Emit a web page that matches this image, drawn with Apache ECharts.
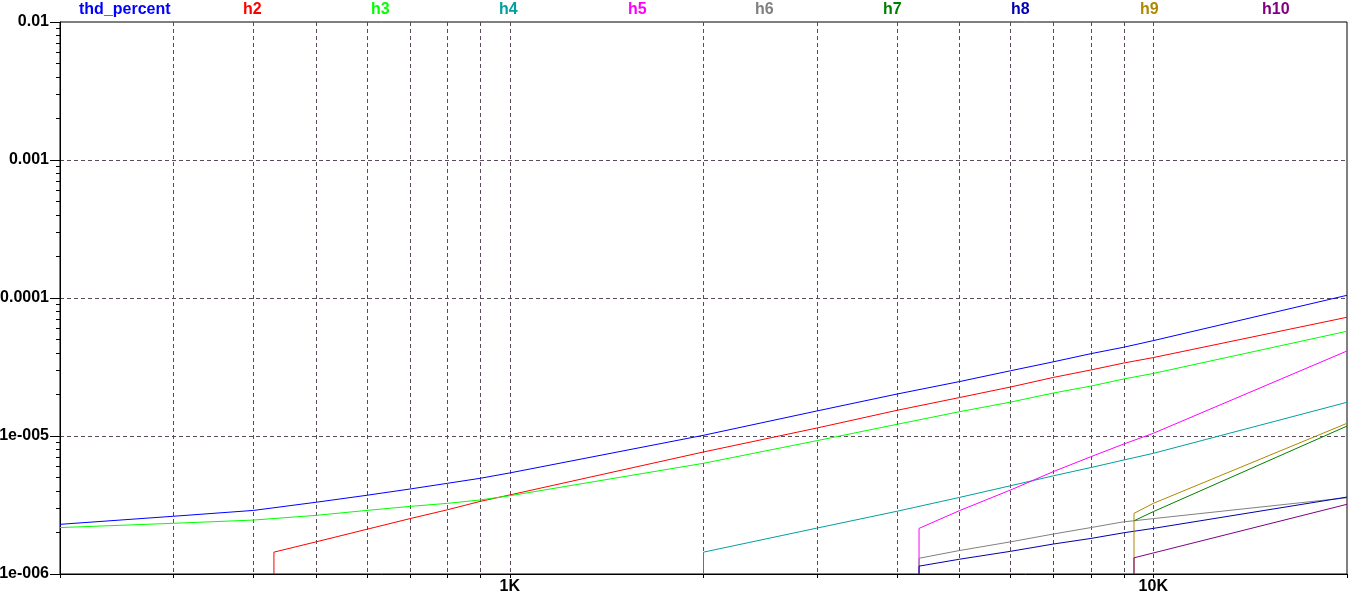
<!DOCTYPE html>
<html>
<head>
<meta charset="utf-8">
<script src="https://cdn.jsdelivr.net/npm/echarts@6/dist/echarts.min.js"></script>
<style>html,body{margin:0;padding:0;background:#fff}#c{width:1362px;height:606px}</style>
</head>
<body>
<div id="c"></div>
<script>
// ---- data (frequency in Hz, value) ----
const seriesNames = ['thd_percent','h2','h3','h4','h5','h6','h7','h8','h9','h10'];
const seriesColors = ['#0000ff','#ff0000','#00ff00','#00a0a0','#ff00ff','#808080','#008000','#0000b0','#b08800','#800080'];

const freqMain = [200,300,400,500,600,700,800,900,1000,2000,3000,4000,5000,6000,7000,8000,9000,10000,20000];
const thdVals  = [2.29e-6,2.62e-6,2.89e-6,3.31e-6,3.72e-6,4.13e-6,4.54e-6,4.94e-6,5.40e-6,1.012e-5,1.518e-5,2.015e-5,2.48e-5,2.97e-5,3.45e-5,3.95e-5,4.40e-5,4.91e-5,1.046e-4];
const h3Vals   = [2.17e-6,2.33e-6,2.46e-6,2.66e-6,2.89e-6,3.09e-6,3.25e-6,3.44e-6,3.69e-6,6.34e-6,9.25e-6,1.216e-5,1.50e-5,1.76e-5,2.05e-5,2.30e-5,2.59e-5,2.84e-5,5.74e-5];

const h2Freq = [430,430,500,600,700,800,900,1000,2000,3000,4000,5000,6000,7000,8000,9000,10000,20000];
const h2Vals = [1e-6,1.44e-6,1.71e-6,2.11e-6,2.52e-6,2.92e-6,3.36e-6,3.74e-6,7.66e-6,1.142e-5,1.536e-5,1.90e-5,2.265e-5,2.66e-5,3.01e-5,3.38e-5,3.70e-5,7.25e-5];

const h4Freq = [2000,2000,3000,4000,5000,6000,7000,8000,9000,10000,20000];
const h4Vals = [1e-6,1.44e-6,2.15e-6,2.85e-6,3.59e-6,4.36e-6,5.15e-6,5.91e-6,6.70e-6,7.49e-6,1.755e-5];

const h5Freq = [4325,4325,5000,6000,7000,8000,9000,10000,20000];
const h5Vals = [1e-6,2.14e-6,2.88e-6,4.06e-6,5.53e-6,7.08e-6,8.75e-6,1.046e-5,4.13e-5];

const h6Freq = [4325,4325,5000,6000,7000,8000,9000,9333,10000,20000];
const h6Vals = [1e-6,1.30e-6,1.48e-6,1.71e-6,1.95e-6,2.17e-6,2.39e-6,2.43e-6,2.52e-6,3.57e-6];

const h7Freq = [9333,10000,20000];
const h7Vals = [2.43e-6,2.83e-6,1.18e-5];

const h8Freq = [4325,4325,5000,6000,7000,8000,9000,10000,20000];
const h8Vals = [1e-6,1.14e-6,1.28e-6,1.46e-6,1.65e-6,1.81e-6,1.99e-6,2.14e-6,3.61e-6];

const h9Freq = [9333,9333,10000,20000];
const h9Vals = [1e-6,2.75e-6,3.25e-6,1.236e-5];

const h10Freq = [9333,9333,20000];
const h10Vals = [1e-6,1.31e-6,3.20e-6];

// axis ticks / labels
const xLabelValues = [1000,10000];
const xLabelTexts  = ['1K','10K'];
const xTickValues  = [200,300,400,500,600,700,800,900,1000,2000,3000,4000,5000,6000,7000,8000,9000,10000,20000];
const xGridValues  = [300,400,500,600,700,800,900,1000,2000,3000,4000,5000,6000,7000,8000,9000,10000];
const yLabelValues = [1e-6,1e-5,1e-4,1e-3,1e-2];
const yLabelTexts  = ['1e-006','1e-005','0.0001','0.001','0.01'];
const yGridValues  = [1e-5,1e-4,1e-3];
const yMinorValues = [2e-6,3e-6,4e-6,5e-6,6e-6,7e-6,8e-6,9e-6,2e-5,3e-5,4e-5,5e-5,6e-5,7e-5,8e-5,9e-5,2e-4,3e-4,4e-4,5e-4,6e-4,7e-4,8e-4,9e-4,2e-3,3e-3,4e-3,5e-3,6e-3,7e-3,8e-3,9e-3];
const legendCenters = [125,252,380,508,637,764,892,1020,1149,1276];

// ---- build ----
const pairs = (fs, vs) => fs.map((f, i) => [f, vs[i]]);
const seriesData = [
  pairs(freqMain, thdVals), pairs(h2Freq, h2Vals), pairs(freqMain, h3Vals), pairs(h4Freq, h4Vals),
  pairs(h5Freq, h5Vals), pairs(h6Freq, h6Vals), pairs(h7Freq, h7Vals), pairs(h8Freq, h8Vals),
  pairs(h9Freq, h9Vals), pairs(h10Freq, h10Vals)
];

const FONT = '"Liberation Sans", Arial, sans-serif';
const ctx = document.createElement('canvas').getContext('2d');
ctx.font = 'bold 16px ' + FONT;

const gridDash = { color: '#5a4b5a', width: 1, type: [4, 3] };
const xMin = 200, xMax = 20000, yMin = 1e-6, yMax = 1e-2;

const baseX = { type: 'log', logBase: 10, min: xMin, max: xMax, position: 'bottom', gridIndex: 0 };
const baseY = { type: 'log', logBase: 10, min: yMin, max: yMax, position: 'left', gridIndex: 0 };

const option = {
  animation: false,
  backgroundColor: '#ffffff',
  grid: { left: 60, right: 15, top: 22, bottom: 32, containLabel: false, outerBoundsMode: 'none',
          show: true, borderColor: '#000', borderWidth: 1, backgroundColor: 'transparent' },
  legend: seriesNames.map((n, i) => ({
    data: [{ name: n, textStyle: { color: seriesColors[i] } }],
    left: Math.round(legendCenters[i] - ctx.measureText(n).width / 2 - 5),
    top: 2, padding: 0, icon: 'none', itemWidth: 0, itemHeight: 0, itemGap: 0,
    selectedMode: false,
    textStyle: { fontSize: 16, fontWeight: 'bold', fontFamily: FONT }
  })),
  xAxis: [
    Object.assign({}, baseX, {
      axisLine: { show: true, lineStyle: { color: '#000', width: 1 } },
      axisTick: { show: true, length: 4, inside: false, customValues: xTickValues, lineStyle: { color: '#000' } },
      axisLabel: { show: true, customValues: xLabelValues, margin: 5, color: '#000', fontSize: 16, fontWeight: 'bold', fontFamily: FONT,
        formatter: v => { const i = xLabelValues.findIndex(x => Math.abs(x - v) / x < 1e-6); return i >= 0 ? xLabelTexts[i] : ''; } },
      splitLine: { show: false }
    }),
    Object.assign({}, baseX, {
      axisLine: { show: false },
      axisTick: { show: false, customValues: xGridValues },
      axisLabel: { show: false },
      splitLine: { show: true, lineStyle: gridDash }
    })
  ],
  yAxis: [
    Object.assign({}, baseY, {
      axisLine: { show: true, lineStyle: { color: '#000', width: 1 } },
      axisTick: { show: true, length: 10, customValues: yLabelValues, lineStyle: { color: '#000' } },
      axisLabel: { show: true, customValues: yLabelValues, margin: 11, color: '#000', fontSize: 16, fontWeight: 'bold', fontFamily: FONT,
        formatter: v => { const i = yLabelValues.findIndex(y => Math.abs(y - v) / y < 1e-6); return i >= 0 ? yLabelTexts[i] : ''; } },
      splitLine: { show: false }
    }),
    Object.assign({}, baseY, {
      axisLine: { show: false },
      axisTick: { show: false, customValues: yGridValues },
      axisLabel: { show: false },
      splitLine: { show: true, lineStyle: gridDash }
    }),
    Object.assign({}, baseY, {
      axisLine: { show: false },
      axisTick: { show: true, length: 4, customValues: yMinorValues, lineStyle: { color: '#000' } },
      axisLabel: { show: false },
      splitLine: { show: false }
    })
  ],
  series: seriesNames.map((n, i) => ({
    name: n, type: 'line', xAxisIndex: 0, yAxisIndex: 0,
    data: seriesData[i], showSymbol: false, symbol: 'none', clip: true,
    lineStyle: { color: seriesColors[i], width: 1 }, itemStyle: { color: seriesColors[i] },
    emphasis: { disabled: true }, z: 3
  }))
};

const chart = echarts.init(document.getElementById('c'), null, { renderer: 'canvas' });
chart.setOption(option);
</script>
</body>
</html>
